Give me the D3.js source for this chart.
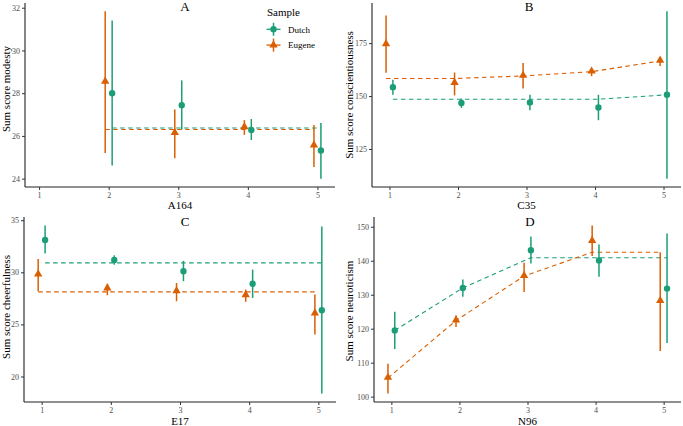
<!DOCTYPE html>
<html><head><meta charset="utf-8">
<script src="https://cdn.jsdelivr.net/npm/d3@7"></script>
<style>body{margin:0;background:#fff}svg{display:block}</style>
</head><body><svg id="c" width="683" height="426"></svg>
<script>
// ---------- data ----------
const categories = [1, 2, 3, 4, 5];
const samples = ["Dutch", "Eugene"];
const panelLabels = ["A", "B", "C", "D"];
const xTitles = ["A164", "C35", "E17", "N96"];
const yTitles = ["Sum score modesty", "Sum score conscientiousness", "Sum score cheerfulness", "Sum score neuroticism"];
const yTicksA = [24, 26, 28, 30, 32];
const yTicksB = [125, 150, 175];
const yTicksC = [20, 25, 30, 35];
const yTicksD = [100, 110, 120, 130, 140, 150];

// Panel A (A164)
const dutchA_mean = [null, 28.0, 27.44, 26.28, 25.32];
const dutchA_lo   = [null, 24.62, 26.3, 25.81, 24.0];
const dutchA_hi   = [null, 31.4, 28.6, 26.79, 26.6];
const dutchA_fit  = [null, 26.37, 26.37, 26.37, 26.37];
const eugeneA_mean = [null, 28.53, 26.13, 26.4, 25.55];
const eugeneA_lo   = [null, 25.2, 24.96, 26.05, 24.54];
const eugeneA_hi   = [null, 31.83, 27.24, 26.74, 26.51];
const eugeneA_fit  = [null, 26.3, 26.3, 26.3, 26.3];

// Panel B (C35)
const dutchB_mean = [154.2, 146.7, 147.0, 144.6, 150.6];
const dutchB_lo   = [150.6, 144.4, 143.3, 138.6, 111.0];
const dutchB_hi   = [157.7, 148.8, 150.6, 150.6, 190.0];
const dutchB_fit  = [148.5, 148.5, 148.5, 148.5, 150.6];
const eugeneB_mean = [174.4, 156.1, 159.5, 161.5, 166.6];
const eugeneB_lo   = [161.0, 150.3, 153.6, 159.4, 164.2];
const eugeneB_hi   = [188.0, 161.1, 165.6, 162.7, 168.2];
const eugeneB_fit  = [158.3, 158.3, 159.5, 161.5, 166.6];

// Panel C (E17)
const dutchC_mean = [33.1, 31.18, 30.1, 28.9, 26.36];
const dutchC_lo   = [31.8, 30.73, 29.14, 27.54, 18.36];
const dutchC_hi   = [34.5, 31.63, 31.1, 30.26, 34.4];
const dutchC_fit  = [30.9, 30.9, 30.9, 30.9, 30.9];
const eugeneC_mean = [29.78, 28.44, 28.18, 27.8, 26.04];
const eugeneC_lo   = [28.18, 27.8, 27.23, 27.17, 24.03];
const eugeneC_hi   = [31.28, 28.9, 28.98, 28.34, 27.86];
const eugeneC_fit  = [28.12, 28.12, 28.12, 28.12, 28.12];

// Panel D (N96)
const dutchD_mean = [119.5, 132.0, 143.1, 140.1, 131.8];
const dutchD_lo   = [114.0, 129.4, 139.2, 135.3, 115.8];
const dutchD_hi   = [125.0, 134.5, 147.1, 144.8, 148.0];
const dutchD_fit  = [119.5, 132.0, 140.9, 140.9, 140.9];
const eugeneD_mean = [105.5, 122.4, 135.5, 145.8, 128.1];
const eugeneD_lo   = [100.9, 120.5, 130.8, 141.4, 113.4];
const eugeneD_hi   = [109.7, 123.9, 139.4, 150.4, 142.5];
const eugeneD_fit  = [105.5, 122.4, 135.5, 142.5, 142.5];

// ---------- styling / layout ----------
const colors = {Dutch: "#1B9E77", Eugene: "#D95F02"};
const dodge = {Dutch: 0.05, Eugene: -0.05};
const FONT = "'Liberation Serif', 'Times New Roman', serif";
const layout = [
  {l: 25, r: 335, t: 3, b: 187, tx: 185, ty: 11, xly: 209, ylx: 10, yly: 89},
  {l: 372, r: 681, t: 3, b: 187, tx: 529, ty: 11, xly: 209, ylx: 353, yly: 95},
  {l: 24, r: 336, t: 217, b: 402, tx: 185, ty: 226, xly: 424.5, ylx: 10, yly: 307},
  {l: 374, r: 681, t: 217, b: 402, tx: 530, ty: 226, xly: 424.5, ylx: 353, yly: 311}
];

const panelData = [
  {yTicks: yTicksA, includeX: [1], s: {
    Dutch: {mean: dutchA_mean, lo: dutchA_lo, hi: dutchA_hi, fit: dutchA_fit},
    Eugene: {mean: eugeneA_mean, lo: eugeneA_lo, hi: eugeneA_hi, fit: eugeneA_fit}}},
  {yTicks: yTicksB, includeX: [], s: {
    Dutch: {mean: dutchB_mean, lo: dutchB_lo, hi: dutchB_hi, fit: dutchB_fit},
    Eugene: {mean: eugeneB_mean, lo: eugeneB_lo, hi: eugeneB_hi, fit: eugeneB_fit}}},
  {yTicks: yTicksC, includeX: [], s: {
    Dutch: {mean: dutchC_mean, lo: dutchC_lo, hi: dutchC_hi, fit: dutchC_fit},
    Eugene: {mean: eugeneC_mean, lo: eugeneC_lo, hi: eugeneC_hi, fit: eugeneC_fit}}},
  {yTicks: yTicksD, includeX: [], s: {
    Dutch: {mean: dutchD_mean, lo: dutchD_lo, hi: dutchD_hi, fit: dutchD_fit},
    Eugene: {mean: eugeneD_mean, lo: eugeneD_lo, hi: eugeneD_hi, fit: eugeneD_fit}}}
];

const svg = d3.select("#c");
svg.append("rect").attr("width", 683).attr("height", 426).attr("fill", "#fff");

function expand(ext, m) { const r = ext[1] - ext[0]; return [ext[0] - r * m, ext[1] + r * m]; }

panelData.forEach((P, pi) => {
  const L = layout[pi];
  const rows = {};
  samples.forEach(sm => {
    rows[sm] = categories.map((c, i) => ({
      x: c + dodge[sm], mean: P.s[sm].mean[i], lo: P.s[sm].lo[i], hi: P.s[sm].hi[i], fit: P.s[sm].fit[i]
    })).filter(d => d.mean != null);
  });
  const all = samples.flatMap(sm => rows[sm]);
  const xs = all.map(d => d.x).concat(P.includeX);
  const ys = all.flatMap(d => [d.lo, d.hi, d.mean, d.fit]);
  const x = d3.scaleLinear().domain(expand(d3.extent(xs), 0.05)).range([L.l, L.r]);
  const y = d3.scaleLinear().domain(expand(d3.extent(ys), 0.05)).range([L.b, L.t]);

  const g = svg.append("g");

  const ax = g.append("g").attr("transform", `translate(0,${L.b})`)
    .call(d3.axisBottom(x).tickValues(categories).tickFormat(d3.format("d")).tickSize(3).tickSizeOuter(0).tickPadding(2));
  const ay = g.append("g").attr("transform", `translate(${L.l},0)`)
    .call(d3.axisLeft(y).tickValues(P.yTicks).tickFormat(d3.format("d")).tickSize(3).tickSizeOuter(0).tickPadding(2));
  [ax, ay].forEach(a => {
    a.select(".domain").attr("stroke", "#222").attr("stroke-width", 1.1);
    a.selectAll(".tick line").attr("stroke", "#333").attr("stroke-width", 1);
    a.selectAll(".tick text").attr("fill", "#4D4D4D").style("font-family", FONT).style("font-size", "8px");
  });
  ax.select(".domain").attr("d", `M${L.l},0H${L.r}`);
  ay.select(".domain").attr("d", `M0,${L.b}V${L.t}`);

  const line = d3.line().x(d => x(d.x)).y(d => y(d.fit));
  samples.forEach(sm => {
    g.append("path").datum(rows[sm].filter(d => d.fit != null))
      .attr("d", line).attr("fill", "none").attr("stroke", colors[sm])
      .attr("stroke-width", 1.1).attr("stroke-dasharray", "4.5,3.5");
  });

  samples.forEach(sm => {
    const gg = g.append("g");
    gg.selectAll("line.err").data(rows[sm]).join("line")
      .attr("x1", d => x(d.x)).attr("x2", d => x(d.x))
      .attr("y1", d => y(d.lo)).attr("y2", d => y(d.hi))
      .attr("stroke", colors[sm]).attr("stroke-width", 1.5);
    const sym = d3.symbol().type(sm === "Dutch" ? d3.symbolCircle : d3.symbolTriangle).size(sm === "Dutch" ? 32 : 30);
    gg.selectAll("path.pt").data(rows[sm]).join("path")
      .attr("transform", d => `translate(${x(d.x)},${y(d.mean) + (sm === "Dutch" ? 0 : -0.5)})`)
      .attr("d", sym).attr("fill", colors[sm]);
  });

  g.append("text").attr("x", L.tx).attr("y", L.ty).attr("text-anchor", "middle")
    .style("font-family", FONT).style("font-size", "13px").attr("fill", "#000").text(panelLabels[pi]);
  g.append("text").attr("x", (L.l + L.r) / 2).attr("y", L.xly).attr("text-anchor", "middle")
    .style("font-family", FONT).style("font-size", "11px").attr("fill", "#000").text(xTitles[pi]);
  g.append("text").attr("transform", `translate(${L.ylx},${L.yly}) rotate(-90)`).attr("text-anchor", "middle")
    .style("font-family", FONT).style("font-size", "11px").attr("fill", "#000").text(yTitles[pi]);
});

// legend (inside panel A)
const lg = svg.append("g");
lg.append("text").attr("x", 267).attr("y", 16).style("font-family", FONT).style("font-size", "11px").text("Sample");
samples.forEach((sm, i) => {
  const cy = 29.3 + i * 15.8, cx = 273.5;
  lg.append("line").attr("x1", cx - 7).attr("x2", cx + 7).attr("y1", cy).attr("y2", cy)
    .attr("stroke", colors[sm]).attr("stroke-width", 1.3);
  lg.append("line").attr("x1", cx).attr("x2", cx).attr("y1", cy - 6.5).attr("y2", cy + 6.5)
    .attr("stroke", colors[sm]).attr("stroke-width", 1.5);
  lg.append("path").attr("transform", `translate(${cx},${cy})`)
    .attr("d", d3.symbol().type(sm === "Dutch" ? d3.symbolCircle : d3.symbolTriangle).size(sm === "Dutch" ? 32 : 30)())
    .attr("fill", colors[sm]);
  lg.append("text").attr("x", 288).attr("y", cy + 3.2).style("font-family", FONT).style("font-size", "9px").text(sm);
});
</script></body></html>
